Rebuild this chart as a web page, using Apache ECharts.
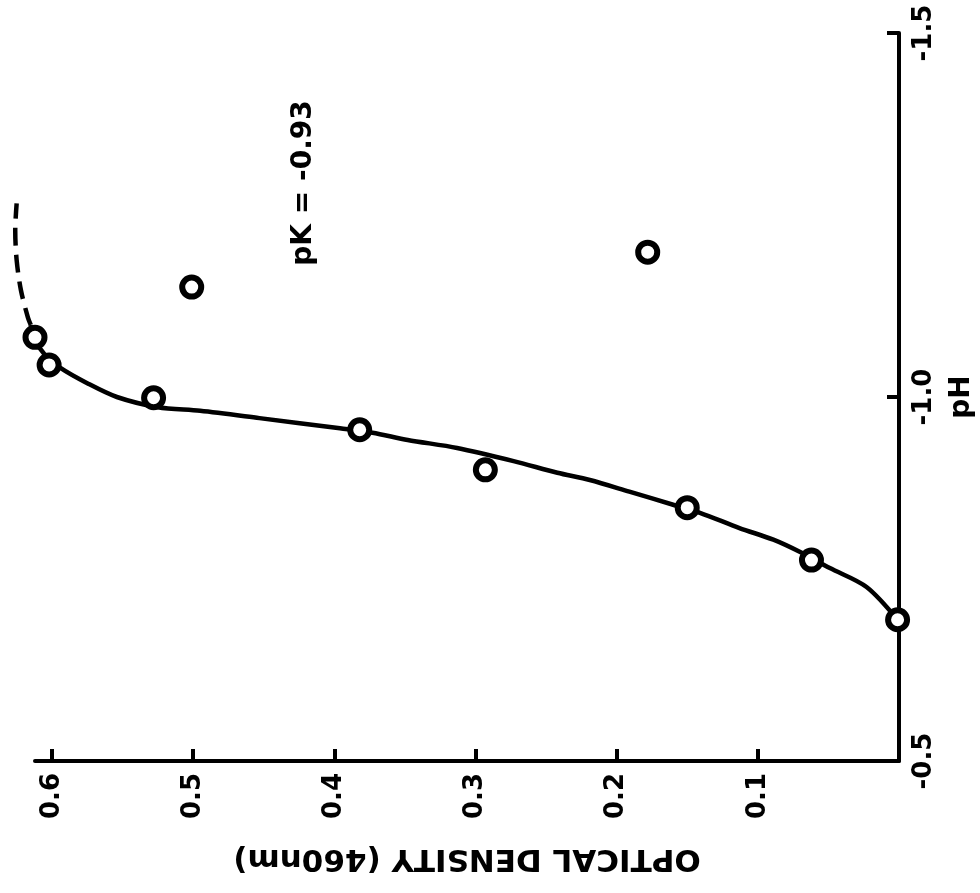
<!DOCTYPE html>
<html>
<head>
<meta charset="utf-8">
<script src="https://cdn.jsdelivr.net/npm/echarts@6/dist/echarts.min.js"></script>
<style>
html,body{margin:0;padding:0;background:#fff;}
#chart{width:980px;height:893px;}
</style>
</head>
<body>
<div id="chart"></div>
<script>
// Measured points (optical density at 460nm vs pH)
var pointOD = [0.612, 0.602, 0.528, 0.501, 0.382, 0.293, 0.178, 0.150, 0.062, 0.001];
var pointPH = [-1.082, -1.044, -0.999, -1.151, -0.955, -0.900, -1.199, -0.848, -0.776, -0.694];

// Hand-drawn titration curve (solid part)
var curveOD = [0.001, 0.023, 0.049, 0.070, 0.089, 0.113, 0.141, 0.160, 0.191, 0.219, 0.242, 0.273, 0.313, 0.348, 0.373, 0.396, 0.453, 0.495, 0.525, 0.554, 0.575, 0.594, 0.605, 0.613, 0.615];
var curvePH = [-0.694, -0.739, -0.765, -0.787, -0.804, -0.820, -0.841, -0.852, -0.870, -0.886, -0.896, -0.912, -0.930, -0.941, -0.951, -0.957, -0.971, -0.981, -0.986, -1.000, -1.019, -1.040, -1.058, -1.081, -1.099];

// Dashed extrapolation
var dashOD = [0.615, 0.617, 0.622, 0.625, 0.626, 0.625];
var dashPH = [-1.099, -1.109, -1.147, -1.188, -1.229, -1.266];

// Axis ticks
var odTicks = [0.1, 0.2, 0.3, 0.4, 0.5, 0.6];
var phTicks = [-1.5, -1.0, -0.5];

// Annotation
var pkText = 'pK = -0.93';
var pkPos = [0.422, -1.294];

function zip(a, b) { return a.map(function (v, i) { return [v, b[i]]; }); }

var FONT = 'DejaVu Sans';
var OD_MAX = 0.612;      // end of the drawn OD axis
var OD_MAX_EXT = 0.63;   // wider hidden axis for the curve overshoot
var PLOT_RIGHT = 81, PLOT_LEFT = 35;
var plotW = 980 - PLOT_RIGHT - PLOT_LEFT;
var extLeft = 980 - PLOT_RIGHT - plotW * OD_MAX_EXT / OD_MAX;

var chart = echarts.init(document.getElementById('chart'));
chart.setOption({
  animation: false,
  backgroundColor: '#ffffff',
  grid: [
    { left: PLOT_LEFT, right: PLOT_RIGHT, top: 33, bottom: 132, containLabel: false, outerBoundsMode: 'none' },
    { left: extLeft, right: PLOT_RIGHT, top: 33, bottom: 132, containLabel: false, outerBoundsMode: 'none' }
  ],
  xAxis: [{
    type: 'value', inverse: true, min: 0, max: OD_MAX, gridIndex: 0,
    position: 'bottom',
    name: 'OPTICAL DENSITY (460nm)', nameLocation: 'middle', nameGap: 82, nameRotate: 180,
    nameTextStyle: { color: '#000', fontFamily: FONT, fontWeight: 'bold', fontSize: 31 },
    axisLine: { show: true, lineStyle: { color: '#000', width: 4 } },
    axisTick: { show: true, inside: true, length: 12, lineStyle: { color: '#000', width: 4 }, customValues: odTicks },
    axisLabel: { show: true, rotate: 90, margin: 12, color: '#000', fontFamily: FONT, fontWeight: 'bold', fontSize: 26,
      customValues: odTicks, formatter: function (v) { return v.toFixed(1); } },
    splitLine: { show: false }
  }, {
    type: 'value', inverse: true, min: 0, max: OD_MAX_EXT, gridIndex: 1, show: false
  }],
  yAxis: [{
    type: 'value', inverse: true, min: -1.5, max: -0.5, gridIndex: 0,
    position: 'right',
    name: 'pH', nameLocation: 'middle', nameGap: 49, nameRotate: 90,
    nameTextStyle: { color: '#000', fontFamily: FONT, fontWeight: 'bold', fontSize: 28 },
    axisLine: { show: true, lineStyle: { color: '#000', width: 4 } },
    axisTick: { show: true, inside: true, length: 12, lineStyle: { color: '#000', width: 4 }, customValues: phTicks },
    axisLabel: { show: true, rotate: 90, margin: 12, color: '#000', fontFamily: FONT, fontWeight: 'bold', fontSize: 26,
      customValues: phTicks, formatter: function (v) { return v.toFixed(1); } },
    splitLine: { show: false }
  }, {
    type: 'value', inverse: true, min: -1.5, max: -0.5, gridIndex: 1, position: 'right', show: false
  }],
  series: [
    {
      type: 'line', xAxisIndex: 1, yAxisIndex: 1, data: zip(curveOD, curvePH), smooth: 0.3, showSymbol: false, clip: false,
      lineStyle: { color: '#000', width: 4.5 }, z: 2
    },
    {
      type: 'line', xAxisIndex: 1, yAxisIndex: 1, data: zip(dashOD, dashPH), smooth: 0.3, showSymbol: false, clip: false,
      lineStyle: { color: '#000', width: 4.5, type: 'dashed', dashOffset: 0 }, z: 2
    },
    {
      type: 'scatter', data: zip(pointOD, pointPH), symbol: 'circle', symbolSize: 19, clip: false,
      itemStyle: { color: '#fff', borderColor: '#000', borderWidth: 6, opacity: 1 }, z: 3
    },
    {
      type: 'scatter', data: [pkPos], symbolSize: 0, clip: false, silent: true,
      itemStyle: { opacity: 1 },
      label: { show: true, formatter: pkText, rotate: 90, position: 'inside', color: '#000', opacity: 1,
        fontFamily: FONT, fontWeight: 'bold', fontSize: 28 }
    }
  ]
});
</script>
</body>
</html>
